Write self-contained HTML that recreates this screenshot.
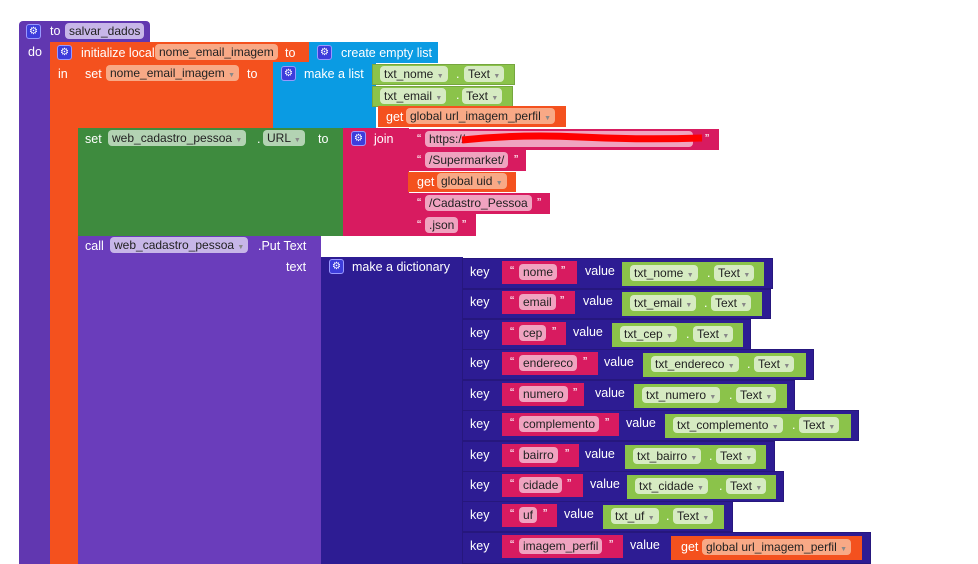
<!DOCTYPE html>
<html><head><meta charset="utf-8"><style>
body{margin:0;width:978px;height:564px;background:#fff;position:relative;overflow:hidden;font-family:"Liberation Sans",sans-serif;font-size:12.5px;color:#fff}
.b{position:absolute;box-sizing:border-box}
.t{position:absolute;white-space:nowrap;line-height:15px}
.p{position:absolute;white-space:nowrap;line-height:16px;height:16px;padding:0 4px;border-radius:4px;color:#222;font-size:12px;background:rgba(255,255,255,.55)}
.pu{background:#6137b0}.pl{background:#6a3dbb}.or{background:#f4511e}.bl{background:#0a9be3}.dg{background:#3e8b3e}.mg{background:#d81b60}.dk{background:#2d1c93}.lg{background:#8bc34a}
.g{position:absolute;width:15px;height:15px;border-radius:3px;background:#3d3ddb;border:1px solid #9999ff;box-sizing:border-box;color:#fff;font-size:10px;line-height:13px;text-align:center}
.ar{font-size:7px;color:#888}
.brd{border:1px solid rgba(0,0,0,.15)}
</style></head><body>
<div class="b pu" style="left:19px;top:21px;width:131px;height:21px;border-radius:4px 4px 0 0"></div>
<div class="b pu" style="left:19px;top:41px;width:31px;height:523px"></div>
<div class="g" style="left:26px;top:24px">⚙</div>
<div class="t" style="left:50px;top:24px">to</div>
<div class="p" style="left:65px;top:23px;background:#c7b6e8">salvar_dados</div>
<div class="t" style="left:28px;top:45px">do</div>
<div class="b or" style="left:50px;top:42px;width:260px;height:21px"></div>
<div class="b or" style="left:50px;top:62px;width:28px;height:502px"></div>
<div class="g" style="left:57px;top:45px">⚙</div>
<div class="t" style="left:81px;top:46px">initialize local</div>
<div class="p" style="left:155px;top:44px;background:#f8a986">nome_email_imagem</div>
<div class="t" style="left:285px;top:46px">to</div>
<div class="t" style="left:58px;top:67px">in</div>
<div class="b bl" style="left:309px;top:42px;width:129px;height:21px"></div>
<div class="g" style="left:317px;top:45px">⚙</div>
<div class="t" style="left:341px;top:46px">create empty list</div>
<div class="b or" style="left:78px;top:62px;width:196px;height:66px"></div>
<div class="t" style="left:85px;top:67px">set</div>
<div class="p" style="left:106px;top:65px;background:#f8a986">nome_email_imagem <span class="ar">▼</span></div>
<div class="t" style="left:247px;top:67px">to</div>
<div class="b bl" style="left:273px;top:62px;width:103px;height:66px"></div>
<div class="g" style="left:281px;top:66px">⚙</div>
<div class="t" style="left:304px;top:67px">make a list</div>
<div class="b lg brd" style="left:372px;top:64px;width:143px;height:21px"></div>
<div class="p" style="left:380px;top:66px;background:#d6ebc2">txt_nome <span class="ar">▼</span></div>
<div class="t" style="left:456px;top:67px;color:#fff">.</div>
<div class="p" style="left:464px;top:66px;background:#d6ebc2">Text <span class="ar">▼</span></div>
<div class="b lg brd" style="left:372px;top:86px;width:141px;height:21px"></div>
<div class="p" style="left:380px;top:88px;background:#d6ebc2">txt_email <span class="ar">▼</span></div>
<div class="t" style="left:456px;top:88px">.</div>
<div class="p" style="left:462px;top:88px;background:#d6ebc2">Text <span class="ar">▼</span></div>
<div class="b or" style="left:378px;top:106px;width:188px;height:21px"></div>
<div class="t" style="left:386px;top:110px">get</div>
<div class="p" style="left:406px;top:108px;background:#f8a986">global url_imagem_perfil <span class="ar">▼</span></div>
<div class="b dg" style="left:78px;top:128px;width:266px;height:108px"></div>
<div class="t" style="left:85px;top:132px">set</div>
<div class="p" style="left:108px;top:130px;background:#b3d3b3">web_cadastro_pessoa <span class="ar">▼</span></div>
<div class="t" style="left:257px;top:132px">.</div>
<div class="p" style="left:263px;top:130px;background:#b3d3b3">URL <span class="ar">▼</span></div>
<div class="t" style="left:318px;top:132px">to</div>
<div class="b mg" style="left:343px;top:128px;width:66px;height:108px"></div>
<div class="g" style="left:351px;top:131px">⚙</div>
<div class="t" style="left:374px;top:132px">join</div>
<div class="b mg" style="left:408px;top:129px;width:311px;height:21px"></div>
<div class="t" style="left:417px;top:132px">“</div>
<div class="p" style="left:425px;top:131px;background:#f0a3c0;width:260px">https://</div>
<svg class="b" style="left:460px;top:130px" width="245" height="16"><path d="M2 10 Q60 4 120 7 T242 8" stroke="#ff0000" stroke-width="7" fill="none"/></svg>
<div class="t" style="left:705px;top:132px">”</div>
<div class="b mg" style="left:408px;top:150px;width:118px;height:21px"></div>
<div class="t" style="left:417px;top:153px">“</div>
<div class="p" style="left:425px;top:152px;background:#f0a3c0">/Supermarket/</div>
<div class="t" style="left:514px;top:153px">”</div>
<div class="b or" style="left:408px;top:172px;width:108px;height:20px"></div>
<div class="t" style="left:417px;top:175px">get</div>
<div class="p" style="left:437px;top:173px;background:#f8a986">global uid <span class="ar">▼</span></div>
<div class="b mg" style="left:408px;top:193px;width:142px;height:21px"></div>
<div class="t" style="left:417px;top:196px">“</div>
<div class="p" style="left:425px;top:195px;background:#f0a3c0">/Cadastro_Pessoa</div>
<div class="t" style="left:537px;top:196px">”</div>
<div class="b mg" style="left:408px;top:214px;width:68px;height:22px"></div>
<div class="t" style="left:417px;top:218px">“</div>
<div class="p" style="left:425px;top:217px;background:#f0a3c0">.json</div>
<div class="t" style="left:462px;top:218px">”</div>
<div class="b pl" style="left:78px;top:236px;width:243px;height:328px"></div>
<div class="t" style="left:85px;top:239px">call</div>
<div class="p" style="left:110px;top:237px;background:#c7b6e8">web_cadastro_pessoa <span class="ar">▼</span></div>
<div class="t" style="left:258px;top:239px">.Put Text</div>
<div class="t" style="left:286px;top:260px">text</div>
<div class="b dk" style="left:321px;top:257px;width:142px;height:307px"></div>
<div class="g" style="left:329px;top:259px">⚙</div>
<div class="t" style="left:352px;top:260px">make a dictionary</div>

<div class="b dk brd" style="left:462px;top:258px;width:311px;height:31px"></div>
<div class="t" style="left:470px;top:265px">key</div>
<div class="b mg" style="left:502px;top:261px;width:75px;height:23px"></div>
<div class="t" style="left:510px;top:264px">“</div><div class="p" style="left:519px;top:264px;background:#f0a3c0">nome</div><div class="t" style="left:561px;top:264px">”</div>
<div class="t" style="left:585px;top:264px">value</div>
<div class="b lg" style="left:622px;top:262px;width:142px;height:24px"></div>
<div class="p" style="left:630px;top:265px;background:#d6ebc2">txt_nome <span class="ar">▼</span></div><div class="t" style="left:707px;top:266px">.</div><div class="p" style="left:714px;top:265px;background:#d6ebc2">Text <span class="ar">▼</span></div>

<div class="b dk brd" style="left:462px;top:289px;width:309px;height:30px"></div>
<div class="t" style="left:470px;top:295px">key</div>
<div class="b mg" style="left:502px;top:291px;width:73px;height:23px"></div>
<div class="t" style="left:510px;top:294px">“</div><div class="p" style="left:519px;top:294px;background:#f0a3c0">email</div><div class="t" style="left:560px;top:294px">”</div>
<div class="t" style="left:583px;top:294px">value</div>
<div class="b lg" style="left:622px;top:292px;width:140px;height:24px"></div>
<div class="p" style="left:630px;top:295px;background:#d6ebc2">txt_email <span class="ar">▼</span></div><div class="t" style="left:704px;top:296px">.</div><div class="p" style="left:711px;top:295px;background:#d6ebc2">Text <span class="ar">▼</span></div>

<div class="b dk brd" style="left:462px;top:319px;width:289px;height:31px"></div>
<div class="t" style="left:470px;top:326px">key</div>
<div class="b mg" style="left:502px;top:322px;width:64px;height:23px"></div>
<div class="t" style="left:510px;top:325px">“</div><div class="p" style="left:519px;top:325px;background:#f0a3c0">cep</div><div class="t" style="left:552px;top:325px">”</div>
<div class="t" style="left:573px;top:325px">value</div>
<div class="b lg" style="left:612px;top:323px;width:131px;height:24px"></div>
<div class="p" style="left:620px;top:326px;background:#d6ebc2">txt_cep <span class="ar">▼</span></div><div class="t" style="left:686px;top:327px">.</div><div class="p" style="left:693px;top:326px;background:#d6ebc2">Text <span class="ar">▼</span></div>

<div class="b dk brd" style="left:462px;top:349px;width:352px;height:31px"></div>
<div class="t" style="left:470px;top:356px">key</div>
<div class="b mg" style="left:502px;top:352px;width:96px;height:23px"></div>
<div class="t" style="left:510px;top:355px">“</div><div class="p" style="left:519px;top:355px;background:#f0a3c0">endereco</div><div class="t" style="left:583px;top:355px">”</div>
<div class="t" style="left:604px;top:355px">value</div>
<div class="b lg" style="left:643px;top:353px;width:163px;height:24px"></div>
<div class="p" style="left:651px;top:356px;background:#d6ebc2">txt_endereco <span class="ar">▼</span></div><div class="t" style="left:747px;top:357px">.</div><div class="p" style="left:754px;top:356px;background:#d6ebc2">Text <span class="ar">▼</span></div>

<div class="b dk brd" style="left:462px;top:380px;width:333px;height:31px"></div>
<div class="t" style="left:470px;top:387px">key</div>
<div class="b mg" style="left:502px;top:383px;width:82px;height:23px"></div>
<div class="t" style="left:510px;top:386px">“</div><div class="p" style="left:519px;top:386px;background:#f0a3c0">numero</div><div class="t" style="left:573px;top:386px">”</div>
<div class="t" style="left:595px;top:386px">value</div>
<div class="b lg" style="left:634px;top:384px;width:153px;height:24px"></div>
<div class="p" style="left:642px;top:387px;background:#d6ebc2">txt_numero <span class="ar">▼</span></div><div class="t" style="left:729px;top:388px">.</div><div class="p" style="left:736px;top:387px;background:#d6ebc2">Text <span class="ar">▼</span></div>

<div class="b dk brd" style="left:462px;top:410px;width:397px;height:31px"></div>
<div class="t" style="left:470px;top:417px">key</div>
<div class="b mg" style="left:502px;top:413px;width:117px;height:23px"></div>
<div class="t" style="left:510px;top:416px">“</div><div class="p" style="left:519px;top:416px;background:#f0a3c0">complemento</div><div class="t" style="left:605px;top:416px">”</div>
<div class="t" style="left:626px;top:416px">value</div>
<div class="b lg" style="left:665px;top:414px;width:186px;height:24px"></div>
<div class="p" style="left:673px;top:417px;background:#d6ebc2">txt_complemento <span class="ar">▼</span></div><div class="t" style="left:792px;top:418px">.</div><div class="p" style="left:799px;top:417px;background:#d6ebc2">Text <span class="ar">▼</span></div>

<div class="b dk brd" style="left:462px;top:441px;width:313px;height:31px"></div>
<div class="t" style="left:470px;top:448px">key</div>
<div class="b mg" style="left:502px;top:444px;width:77px;height:23px"></div>
<div class="t" style="left:510px;top:447px">“</div><div class="p" style="left:519px;top:447px;background:#f0a3c0">bairro</div><div class="t" style="left:565px;top:447px">”</div>
<div class="t" style="left:585px;top:447px">value</div>
<div class="b lg" style="left:625px;top:445px;width:141px;height:24px"></div>
<div class="p" style="left:633px;top:448px;background:#d6ebc2">txt_bairro <span class="ar">▼</span></div><div class="t" style="left:709px;top:449px">.</div><div class="p" style="left:716px;top:448px;background:#d6ebc2">Text <span class="ar">▼</span></div>

<div class="b dk brd" style="left:462px;top:471px;width:322px;height:31px"></div>
<div class="t" style="left:470px;top:478px">key</div>
<div class="b mg" style="left:502px;top:474px;width:81px;height:23px"></div>
<div class="t" style="left:510px;top:477px">“</div><div class="p" style="left:519px;top:477px;background:#f0a3c0">cidade</div><div class="t" style="left:567px;top:477px">”</div>
<div class="t" style="left:590px;top:477px">value</div>
<div class="b lg" style="left:627px;top:475px;width:149px;height:24px"></div>
<div class="p" style="left:635px;top:478px;background:#d6ebc2">txt_cidade <span class="ar">▼</span></div><div class="t" style="left:719px;top:479px">.</div><div class="p" style="left:726px;top:478px;background:#d6ebc2">Text <span class="ar">▼</span></div>

<div class="b dk brd" style="left:462px;top:501px;width:271px;height:31px"></div>
<div class="t" style="left:470px;top:508px">key</div>
<div class="b mg" style="left:502px;top:504px;width:55px;height:23px"></div>
<div class="t" style="left:510px;top:507px">“</div><div class="p" style="left:519px;top:507px;background:#f0a3c0">uf</div><div class="t" style="left:543px;top:507px">”</div>
<div class="t" style="left:564px;top:507px">value</div>
<div class="b lg" style="left:603px;top:505px;width:121px;height:24px"></div>
<div class="p" style="left:611px;top:508px;background:#d6ebc2">txt_uf <span class="ar">▼</span></div><div class="t" style="left:666px;top:509px">.</div><div class="p" style="left:673px;top:508px;background:#d6ebc2">Text <span class="ar">▼</span></div>

<div class="b dk brd" style="left:462px;top:532px;width:409px;height:32px"></div>
<div class="t" style="left:470px;top:539px">key</div>
<div class="b mg" style="left:502px;top:535px;width:121px;height:23px"></div>
<div class="t" style="left:510px;top:538px">“</div><div class="p" style="left:519px;top:538px;background:#f0a3c0">imagem_perfil</div><div class="t" style="left:609px;top:538px">”</div>
<div class="t" style="left:630px;top:538px">value</div>
<div class="b or" style="left:671px;top:536px;width:191px;height:24px"></div>
<div class="t" style="left:681px;top:540px">get</div>
<div class="p" style="left:702px;top:539px;background:#f8a986">global url_imagem_perfil <span class="ar">▼</span></div>
</body></html>
